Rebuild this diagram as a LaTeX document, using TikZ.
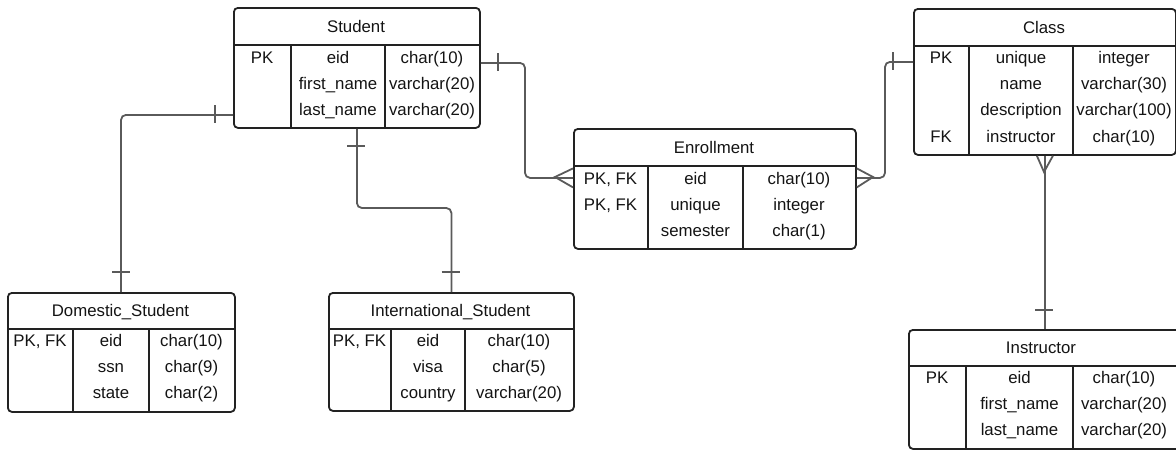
\documentclass[tikz,border=0pt]{standalone}
\usepackage{fontspec}
\setmainfont{Liberation Sans}
\definecolor{boxc}{HTML}{222222}
\definecolor{linec}{HTML}{5A5A5A}
\begin{document}
\begin{tikzpicture}[x=1pt,y=-1pt,
  tbl/.style={draw=boxc, line width=1.8pt, rounded corners=4pt, inner sep=0pt, fill=white, anchor=north west},
  inner/.style={draw=boxc, line width=1.6pt},
  cell/.style={anchor=base, inner sep=0pt, text=black!92, font=\fontsize{16.8}{18}\selectfont},
  conn/.style={draw=linec, line width=1.8pt, rounded corners=5pt},
  tick/.style={draw=linec, line width=1.6pt}]
\useasboundingbox (0,0) rectangle (1176,453);

% ---------------- Student
\node[tbl, minimum width=246pt, minimum height=120pt] (stu) at (233,7) {};
\draw[inner] (233,45) -- (479,45) (291,45) -- (291,127) (385,45) -- (385,127);
\node[cell] (stuh) at (356,32) {Student};
\node[cell] (stuk1) at (262,63) {PK};
\node[cell] (stua1) at (338,63) {eid};
\node[cell] (stua2) at (338,89) {first\_name};
\node[cell] (stua3) at (338,115) {last\_name};
\node[cell] (stut1) at (432,63) {char(10)};
\node[cell] (stut2) at (432,89) {varchar(20)};
\node[cell] (stut3) at (432,115) {varchar(20)};

% ---------------- Enrollment
\node[tbl, minimum width=282pt, minimum height=120pt] (enr) at (573,128) {};
\draw[inner] (573,166) -- (855,166) (648,166) -- (648,248) (743,166) -- (743,248);
\node[cell] (enrh) at (714,153) {Enrollment};
\node[cell] (enrk1) at (610.5,184) {PK, FK};
\node[cell] (enrk2) at (610.5,210) {PK, FK};
\node[cell] (enra1) at (695.5,184) {eid};
\node[cell] (enra2) at (695.5,210) {unique};
\node[cell] (enra3) at (695.5,236) {semester};
\node[cell] (enrt1) at (799,184) {char(10)};
\node[cell] (enrt2) at (799,210) {integer};
\node[cell] (enrt3) at (799,236) {char(1)};

% ---------------- Class
\node[tbl, minimum width=262pt, minimum height=146pt] (cls) at (913,8) {};
\draw[inner] (913,46) -- (1175,46) (969,46) -- (969,154) (1073,46) -- (1073,154);
\node[cell] (clsh) at (1044,33) {Class};
\node[cell] (clsk1) at (941,63) {PK};
\node[cell] (clsk4) at (941,142) {FK};
\node[cell] (clsa1) at (1021,63) {unique};
\node[cell] (clsa2) at (1021,89.3) {name};
\node[cell] (clsa3) at (1021,115.6) {description};
\node[cell] (clsa4) at (1021,142) {instructor};
\node[cell] (clst1) at (1124,63) {integer};
\node[cell] (clst2) at (1124,89.3) {varchar(30)};
\node[cell] (clst3) at (1124,115.6) {varchar(100)};
\node[cell] (clst4) at (1124,142) {char(10)};

% ---------------- Domestic_Student
\node[tbl, minimum width=227pt, minimum height=119pt] (dom) at (7,292) {};
\draw[inner] (7,329) -- (234,329) (73,329) -- (73,411) (149,329) -- (149,411);
\node[cell] (domh) at (120.5,316.5) {Domestic\_Student};
\node[cell] (domk1) at (40,346) {PK, FK};
\node[cell] (doma1) at (111,346) {eid};
\node[cell] (doma2) at (111,372) {ssn};
\node[cell] (doma3) at (111,398) {state};
\node[cell] (domt1) at (191.5,346) {char(10)};
\node[cell] (domt2) at (191.5,372) {char(9)};
\node[cell] (domt3) at (191.5,398) {char(2)};

% ---------------- International_Student
\node[tbl, minimum width=245pt, minimum height=118pt] (int) at (328,292) {};
\draw[inner] (328,329) -- (573,329) (391,329) -- (391,410) (465,329) -- (465,410);
\node[cell] (inth) at (450.5,316.5) {International\_Student};
\node[cell] (intk1) at (359.5,346) {PK, FK};
\node[cell] (inta1) at (428,346) {eid};
\node[cell] (inta2) at (428,372) {visa};
\node[cell] (inta3) at (428,398) {country};
\node[cell] (intt1) at (519,346) {char(10)};
\node[cell] (intt2) at (519,372) {char(5)};
\node[cell] (intt3) at (519,398) {varchar(20)};

% ---------------- Instructor
\node[tbl, minimum width=272pt, minimum height=119pt] (ins) at (908,329) {};
\draw[inner] (908,366) -- (1180,366) (966,366) -- (966,448) (1073,366) -- (1073,448);
\node[cell] (insh) at (1041,353.5) {Instructor};
\node[cell] (insk1) at (937,383) {PK};
\node[cell] (insa1) at (1019.5,383) {eid};
\node[cell] (insa2) at (1019.5,409) {first\_name};
\node[cell] (insa3) at (1019.5,435) {last\_name};
\node[cell] (inst1) at (1124,383) {char(10)};
\node[cell] (inst2) at (1124,409) {varchar(20)};
\node[cell] (inst3) at (1124,435) {varchar(20)};

% ---------------- connectors
% Student -> Domestic_Student
\coordinate (d1) at (121,292);
\draw[conn] ([yshift=-47pt]stu.west) -| (d1);
\draw[tick] (215,105) -- (215,123);
\draw[tick] (112,272) -- (130,272);

% Student -> International_Student
\coordinate (i1) at (403,208);
\draw[conn] (stu.south) |- (i1) -| (int.north);
\draw[tick] (347,146) -- (365,146);
\draw[tick] (441.5,272) -- (459.5,272);

% Student -> Enrollment
\coordinate (e1) at (525,120);
\draw[conn] ([yshift=5pt]stu.east) -| (e1) |- ([yshift=11pt]enr.west);
\draw[tick] (498,53) -- (498,71);
\draw[conn, rounded corners=0pt] ([yshift=20.5pt]enr.west) -- (555,177) -- ([yshift=1.5pt]enr.west);

% Class -> Enrollment
\coordinate (e2) at (885,120);
\draw[conn] ([yshift=20pt]cls.west) -| (e2) |- ([yshift=11pt]enr.east);
\draw[tick] (893,52) -- (893,70);
\draw[conn, rounded corners=0pt] ([yshift=20.5pt]enr.east) -- (873,177) -- ([yshift=1.5pt]enr.east);

% Class -> Instructor
\draw[conn] (cls.south) -- (ins.north -| cls.south);
\draw[conn, rounded corners=0pt] ([xshift=-8pt]cls.south) -- (1044,172) -- ([xshift=8pt]cls.south);
\draw[tick] (1035,310) -- (1053,310);
\end{tikzpicture}
\end{document}
